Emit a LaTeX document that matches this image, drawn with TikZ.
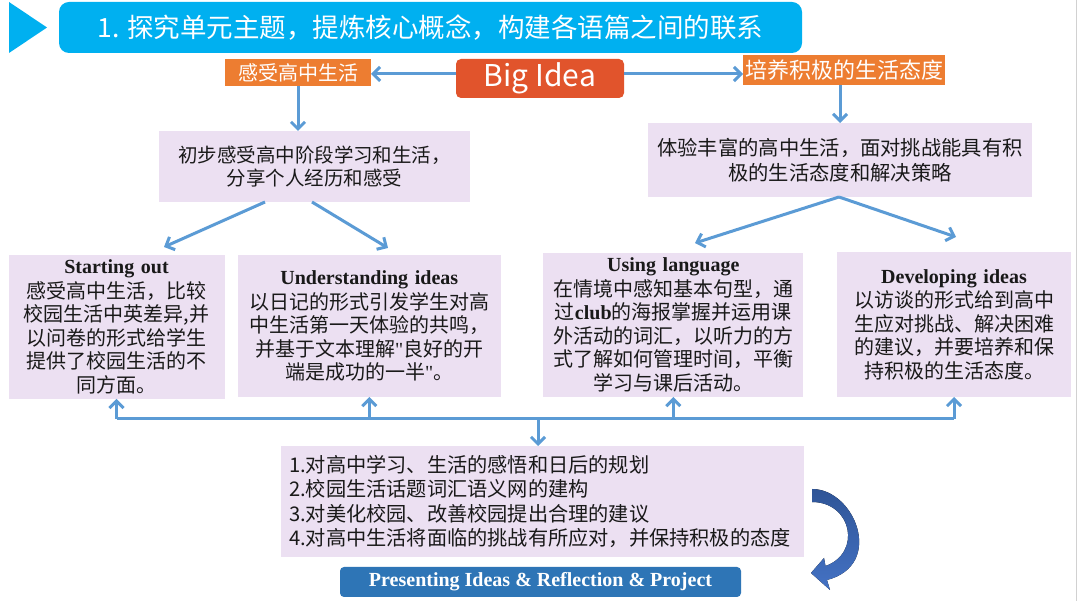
\documentclass[tikz,border=0pt]{standalone}
\usepackage{fontspec}
\setmainfont{Noto Sans CJK SC}
\newfontfamily\tnr{Liberation Serif}
\usetikzlibrary{arrows.meta}
\definecolor{cyanT}{RGB}{0,176,240}
\definecolor{orangeT}{RGB}{237,125,49}
\definecolor{bigred}{RGB}{225,84,44}
\definecolor{purp}{RGB}{236,224,242}
\definecolor{arrblue}{RGB}{91,155,213}
\definecolor{presblue}{RGB}{46,117,182}
\definecolor{darkblue}{RGB}{47,85,151}
\definecolor{midblue}{RGB}{68,114,196}
\newcommand{\sq}{{\tnr\symbol{34}}}
\begin{document}
\begin{tikzpicture}[x=1pt,y=-1pt,
  box/.style={fill=purp, inner sep=0pt, outer sep=0pt, align=center, text=black!90},
  tag/.style={fill=orangeT, inner sep=0pt, outer sep=0pt, text=white},
  arr/.style={draw=arrblue, line width=3pt, -{Straight Barb[length=7pt,width=14pt]}},
  bus/.style={draw=arrblue, line width=3pt},
  body/.style={font=\fontsize{20}{23.5}\selectfont}
]
\useasboundingbox (0,0) rectangle (1080,601);
\fill[white] (0,0) rectangle (1080,601);
\draw[black!18, line width=1pt] (1076,0) -- (1076,601);

% header
\fill[cyanT] (9,2) -- (47,27.5) -- (9,53) -- cycle;
\node[fill=cyanT, rounded corners=10pt, minimum width=743pt, minimum height=51pt, inner sep=0pt, outer sep=0pt, text=white, font=\fontsize{26.5}{30}\selectfont] (title) at (430.5,27.5) {1. 探究单元主题，提炼核心概念，构建各语篇之间的联系};

% big idea row
\node[fill=bigred, rounded corners=5pt, minimum width=168pt, minimum height=39pt, inner sep=0pt, outer sep=0pt, text=white, font=\fontsize{30}{34}\selectfont] (BI) at (540,78.5) {Big Idea};
\node[tag, minimum width=146pt, minimum height=27pt, font=\fontsize{20}{24}\selectfont] (LO) at (298,72.5) {感受高中生活};
\node[tag, minimum width=202pt, minimum height=30pt, font=\fontsize{22}{26}\selectfont] (RO) at (844,70) {培养积极的生活态度};

\draw[arr] ([yshift=4.5pt]BI.west) -- ([yshift=4.5pt]BI.west -| LO.east);
\draw[arr] ([yshift=4.5pt]BI.east) -- ([yshift=4.5pt]BI.east -| RO.west);

% purple concept boxes
\node[box, minimum width=311pt, minimum height=71pt, font=\fontsize{19.5}{23.5}\selectfont] (LP) at (314.5,166.5) {初步感受高中阶段学习和生活，\\分享个人经历和感受};
\node[box, minimum width=384pt, minimum height=74pt, font=\fontsize{20.3}{25}\selectfont] (RP) at (840,160) {体验丰富的高中生活，面对挑战能具有积\\极的生活态度和解决策略};

\draw[arr] (LO.south) -- (LO.south |- LP.north);
\draw[arr] (RP.north |- RO.south) -- (RP.north);

\coordinate (l1) at (265,202);
\coordinate (l2) at (312,202);
\coordinate (lt1) at (164,247);
\coordinate (lt2) at (388,248);
\coordinate (r0) at (839,197);
\coordinate (rt1) at (695,243);
\coordinate (rt2) at (956,237);
\draw[arr] (l1) -- (lt1);
\draw[arr] (l2) -- (lt2);
\draw[arr] (r0) -- (rt1);
\draw[arr] (r0) -- (rt2);

% four section boxes
\node[box, body, minimum width=216pt, minimum height=144pt, text width=212pt] (A) at (116.5,327) {{\tnr\bfseries Starting out}\\[1pt]感受高中生活，比较\\校园生活中英差异,并\\以问卷的形式给学生\\提供了校园生活的不\\同方面。};
\node[box, body, minimum width=263pt, minimum height=142pt, text width=259pt] (B) at (369.3,326) {{\tnr\bfseries Understanding ideas}\\[1pt]以日记的形式引发学生对高\\中生活第一天体验的共鸣，\\并基于文本理解\sq 良好的开\\端是成功的一半\sq 。};
\node[box, body, minimum width=260pt, minimum height=144pt, text width=256pt] (C) at (673.3,325) {{\tnr\bfseries Using language}\\[1pt]在情境中感知基本句型，通\\过{\tnr\bfseries club}的海报掌握并运用课\\外活动的词汇，以听力的方\\式了解如何管理时间，平衡\\学习与课后活动。};
\node[box, body, minimum width=234pt, minimum height=145pt, text width=230pt] (D) at (954,324.5) {{\tnr\bfseries Developing ideas}\\[1pt]以访谈的形式给到高中\\生应对挑战、解决困难\\的建议，并要培养和保\\持积极的生活态度。};

% bus
\coordinate (busy) at (0,419);
\draw[bus] (A.south |- busy) -- (D.south |- busy);
\draw[arr] (A.south |- busy) -- (A.south);
\draw[arr] (B.south |- busy) -- (B.south);
\draw[arr] (C.south |- busy) -- (C.south);
\draw[arr] (D.south |- busy) -- (D.south);

% outcome box
\node[box, minimum width=523pt, minimum height=111pt, text width=507pt, align=left, font=\fontsize{20.2}{24.5}\selectfont] (E) at (542.5,501.5) {1.对高中学习、生活的感悟和日后的规划\\2.校园生活话题词汇语义网的建构\\3.对美化校园、改善校园提出合理的建议\\4.对高中生活将面临的挑战有所应对，并保持积极的态度};
\coordinate (down) at (538,419);
\draw[arr] (down) -- (down |- E.north);

\node[fill=presblue, rounded corners=4pt, minimum width=401pt, minimum height=30pt, inner sep=0pt, outer sep=0pt, text=white, font=\tnr\bfseries\fontsize{20}{22}\selectfont] (P) at (540.5,582) {Presenting Ideas \& Reflection \& Project};

% curved arrow
\fill[top color=darkblue, bottom color=midblue]
  (812,489) .. controls (855,489) and (885,565) .. (827,580)
  -- (830,590) -- (811,573) -- (824,558) -- (825.5,566)
  .. controls (862,553) and (852,502) .. (812,502) -- cycle;
\end{tikzpicture}
\end{document}
